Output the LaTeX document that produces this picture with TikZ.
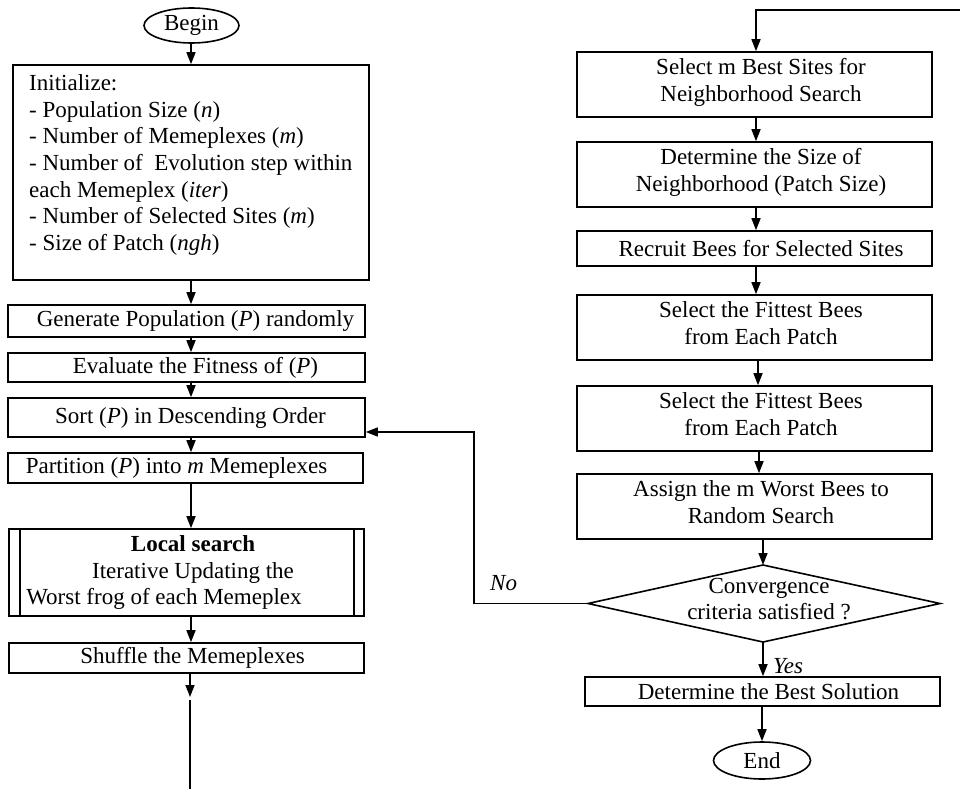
\documentclass[tikz,border=0pt]{standalone}
\usepackage{fontspec}
\setmainfont{Liberation Serif}
\usetikzlibrary{arrows.meta,shapes.geometric}
\newcommand{\dstrut}{\rule[-9pt]{0pt}{9pt}}
\begin{document}
\begin{tikzpicture}[x=1pt,y=-1pt,
  every node/.style={font=\fontsize{23}{26.7}\selectfont, inner sep=0pt},
  box/.style={draw, line width=1.6pt, rectangle, align=center},
  term/.style={draw, line width=1.6pt, ellipse},
  lbl/.style={font=\fontsize{23}{26.7}\selectfont\itshape, anchor=base west},
  arr/.style={line width=1.5pt, -{Triangle[length=12pt,width=9pt]}},
  ln/.style={line width=1.5pt},
  dia/.style={line width=1.6pt, line join=miter}]
\useasboundingbox (0,0) rectangle (960,789);
% column guides
\coordinate (lcol) at (191,0);
\coordinate (rcol) at (756,0);
% ---------- left column ----------
\node[term, minimum width=95pt, minimum height=35pt] (begin) at (191.5,25.5) {Begin};
\node[box, minimum width=356pt, minimum height=215pt] (init) at (191,172.5) {};
\node[anchor=north west, align=left] (inittext) at (29,74.3)
  {Initialize:\\
   - Population Size (\textit{n})\\
   - Number of Memeplexes (\textit{m})\\
   - Number of~ Evolution step within\\
   each Memeplex (\textit{iter})\\
   - Number of Selected Sites (\textit{m})\\
   - Size of Patch (\textit{ngh})};
\node[box, minimum width=357pt, minimum height=32pt] (gen) at (186.5,321)
  {\hspace*{18pt}Generate Population (\textit{P}) randomly};
\node[box, minimum width=357pt, minimum height=29pt] (eval) at (186.5,367.5)
  {\hspace*{18pt}Evaluate the Fitness of (\textit{P})};
\node[box, minimum width=357pt, minimum height=39pt] (sort) at (186.5,417.5)
  {\hspace*{8pt}Sort (\textit{P}) in Descending Order};
\node[box, minimum width=355pt, minimum height=30pt] (part) at (185.5,468)
  {Partition (\textit{P}) into \textit{m} Memeplexes\hspace*{18pt}};
\node[box, minimum width=355pt, minimum height=87pt] (lsearch) at (186.5,572.5)
  {\hspace*{13pt}\textbf{Local search}\\
   \hspace*{13pt}Iterative Updating the\\
   Worst frog of each Memeplex\hspace*{45pt}};
\draw[ln] ([xshift=12pt]lsearch.north west) -- ([xshift=12pt]lsearch.south west);
\draw[ln] ([xshift=-11pt]lsearch.north east) -- ([xshift=-11pt]lsearch.south east);
\node[box, minimum width=355pt, minimum height=30pt] (shuf) at (186.5,658)
  {\hspace*{12pt}Shuffle the Memeplexes};
\coordinate (lmid) at (190,697);
\coordinate (lcont) at (190,700);
\coordinate (lbot) at (190,789);
% ---------- right column ----------
\node[box, minimum width=355pt, minimum height=65pt] (s1) at (754.5,84.5)
  {\hspace*{13pt}Select m Best Sites for\\ \hspace*{13pt}Neighborhood Search\dstrut};
\node[box, minimum width=355pt, minimum height=65pt] (s2) at (754.5,174.5)
  {\hspace*{13pt}Determine the Size of\\ \hspace*{13pt}Neighborhood (Patch Size)\dstrut};
\node[box, minimum width=355pt, minimum height=35pt] (s3) at (754.5,248.5)
  {\hspace*{13pt}Recruit Bees for Selected Sites};
\node[box, minimum width=355pt, minimum height=65pt] (s4) at (754.5,327.5)
  {\hspace*{13pt}Select the Fittest Bees\\ \hspace*{13pt}from Each Patch\dstrut};
\node[box, minimum width=355pt, minimum height=65pt] (s5) at (754.5,418.5)
  {\hspace*{13pt}Select the Fittest Bees\\ \hspace*{13pt}from Each Patch\dstrut};
\node[box, minimum width=355pt, minimum height=65pt] (s6) at (754.5,506.5)
  {\hspace*{13pt}Assign the m Worst Bees to\\ \hspace*{13pt}Random Search\dstrut};
% decision
\coordinate (dN) at (763,565);
\coordinate (dE) at (940,603.5);
\coordinate (dS) at (763,642);
\coordinate (dW) at (588,603.5);
\draw[dia] (dN) -- (dE) -- (dS) -- (dW) -- cycle;
\node[align=center] (dec) at (769,599) {Convergence\\criteria satisfied ?};
\node[box, minimum width=355pt, minimum height=29pt] (best) at (762.5,691.5)
  {\hspace*{12pt}Determine the Best Solution};
\node[term, minimum width=97pt, minimum height=37pt] (end) at (762,760.5) {End};
% labels
\node[lbl] (nolab) at (490,590) {No};
\node[lbl] (yeslab) at (773,673) {Yes};
% ---------- connectors ----------
\draw[arr] (begin.south -| lcol) -- (init.north -| lcol);
\draw[arr] (init.south -| lcol) -- (gen.north -| lcol);
\draw[arr] (gen.south -| lcol) -- (eval.north -| lcol);
\draw[arr] (eval.south -| lcol) -- (sort.north -| lcol);
\draw[arr] (sort.south -| lcol) -- (part.north -| lcol);
\draw[arr] (part.south -| lcol) -- (lsearch.north -| lcol);
\draw[arr] (lsearch.south -| lcol) -- (shuf.north -| lcol);
\draw[arr] (shuf.south -| lmid) -- (lmid);
\draw[ln] (lcont) -- (lbot);
\coordinate (rtop) at (960,10);
\draw[arr] (rtop) -| (s1.north -| rcol);
\draw[arr] (s1.south -| rcol) -- (s2.north -| rcol);
\draw[arr] (s2.south -| rcol) -- (s3.north -| rcol);
\draw[arr] (s3.south -| rcol) -- (s4.north -| rcol);
\draw[arr] ([xshift=2pt]s4.south -| rcol) -- ([xshift=2pt]s5.north -| rcol);
\draw[arr] ([xshift=3pt]s5.south -| rcol) -- ([xshift=3pt]s6.north -| rcol);
\draw[arr] (s6.south -| dN) -- (dN);
\draw[arr] (dS) -- (best.north -| dS);
\draw[arr] (best.south -| end.north) -- (end.north);
\coordinate (nturn) at (474,432);
\draw[arr] (dW) -| (nturn) -- (nturn -| sort.east);
\end{tikzpicture}
\end{document}
